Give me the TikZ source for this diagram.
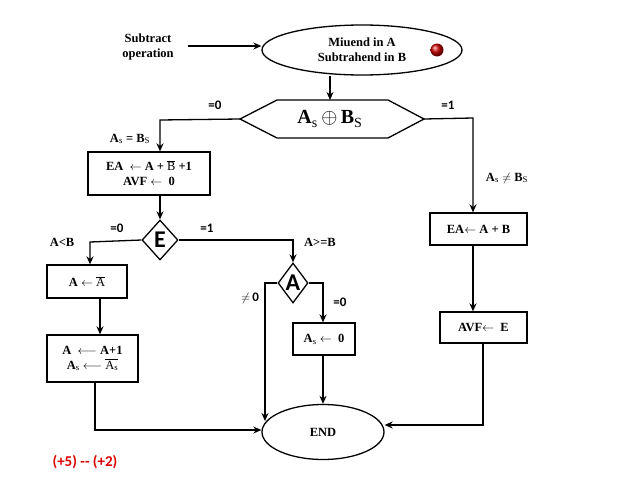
\documentclass[tikz,border=0pt]{standalone}
\usepackage{fontspec}
\setmainfont{Liberation Serif}
\newfontfamily\carfont{Carlito}
\usetikzlibrary{shapes.geometric,arrows.meta}
\begin{document}
\begin{tikzpicture}[x=1pt,y=-1pt,
  every node/.style={font=\bfseries\fontsize{12.5}{15}\selectfont},
  box/.style={draw,line width=1.3pt,inner sep=0pt,align=center},
  ar/.style={line width=1.3pt,-{Stealth[length=8pt,width=7pt]}},
  lab/.style={font=\carfont\bfseries\fontsize{13}{15}\selectfont},
  dia/.style={draw,line width=1.3pt,diamond,aspect=0.75,inner sep=0pt,font=\carfont\bfseries\fontsize{24}{26}\selectfont}]
\useasboundingbox (0,0) rectangle (638,479);
\node[align=center] (sub) at (148,47) {Subtract\\operation};
\node[draw,line width=1.3pt,ellipse,minimum width=200pt,minimum height=50pt,align=center] (st) at (362,50) {Miuend in A\\Subtrahend in B};
\shade[ball color=red!80!black] (437,50) circle (6.5pt);
\coordinate (sa) at (188,46);
\draw[ar] (sa) -- (st.west|-sa);
% hexagon
\coordinate (hl) at (240,119); \coordinate (hr) at (424,119);
\coordinate (ht) at (330,100);
\draw[line width=1.3pt] (hl) -- (277,100) -- (388,100) -- (hr) -- (388,138) -- (277,138) -- cycle;
\node[font=\bfseries\fontsize{20}{22}\selectfont] (hx) at (330,119) {A$_{\mathrm s}\,\oplus\,$B$_{\mathrm S}$};
\draw[ar] (st.south-|ht) -- (ht);
% left branch
\node[box,minimum width=122pt,minimum height=43pt] (b1) at (149,173.5) {EA\ \ $\leftarrow$\ A + $\overline{\mathrm B}$ +1\\AVF\ $\leftarrow$\ \ 0};
\coordinate (c1) at (160,120);
\draw[ar] (hl) -- (c1) -- (c1|-b1.north);
\node[lab] at (215,105) {=0};
\node at (130,139) {A$_{\mathrm s}$ = B$_{\mathrm S}$};
\node[dia,minimum width=36pt,minimum height=40pt] (E) at (160,240) {E};
\draw[ar] (c1|-b1.south) -- (E.north);
\node[box,minimum width=80pt,minimum height=33pt] (b2) at (87,281.5) {A $\leftarrow$ $\overline{\mathrm A}$};
\coordinate (c2) at (90,242);
\draw[ar] (E.west) -- (c2) -- (c2|-b2.north);
\node[lab] at (117,228) {=0};
\node at (62,242) {A<B};
\node[box,minimum width=91pt,minimum height=47pt] (b3) at (92.5,358.5) {A\ \ $\longleftarrow$ A+1\\A$_{\mathrm s}$ $\longleftarrow$ $\overline{\mathrm A_{\mathrm s}}$};
\coordinate (c3) at (100,298);
\draw[ar] (c3) -- (c3|-b3.north);
\node[draw,line width=1.3pt,ellipse,minimum width=122pt,minimum height=55pt] (end) at (323,432) {END};
\coordinate (c4) at (95,430);
\draw[ar] (c4|-b3.south) -- (c4) -- (end.west|-c4);
% E right
\node[dia,minimum width=30pt,minimum height=40pt] (A) at (293,283) {A};
\coordinate (c5) at (293,240);
\draw[ar] (E.east) -- (c5) -- (A.north);
\node[lab] at (207,228) {=1};
\node at (320,242) {A>=B};
\coordinate (c6) at (265,283);
\coordinate (c6e) at (265,421);
\draw[ar] (A.west) -- (c6) -- (c6e);
\node[lab] at (250,298) {$\neq$\,0};
\node[box,minimum width=62pt,minimum height=32pt] (b4) at (324,339) {A$_{\mathrm s}$ $\leftarrow$\ \ 0};
\coordinate (c7) at (323,283);
\draw[ar] (A.east) -- (c7) -- (c7|-b4.north);
\node[lab] at (340,302) {=0};
\draw[ar] (c7|-b4.south) -- (end.north-|c7);
% right branch
\node[box,minimum width=97pt,minimum height=32pt] (b5) at (478.5,229) {EA$\leftarrow$\ A + B};
\coordinate (c8) at (473,118);
\draw[ar] (hr) -- (c8) -- (c8|-b5.north);
\node[lab] at (448,105) {=1};
\node at (507,178) {A$_{\mathrm s}$ $\neq$ B$_{\mathrm S}$};
\node[box,minimum width=87pt,minimum height=31pt] (b6) at (483.5,327.5) {AVF$\leftarrow$\ \ E};
\draw[ar] (c8|-b5.south) -- (c8|-b6.north);
\coordinate (c9) at (483,425);
\draw[ar] (c9|-b6.south) -- (c9) -- (end.east|-c9);
\node[font=\carfont\bfseries\fontsize{15}{17}\selectfont,text=red!85!black] (note) at (85,462) {(+5) -- (+2)};
\end{tikzpicture}
\end{document}
